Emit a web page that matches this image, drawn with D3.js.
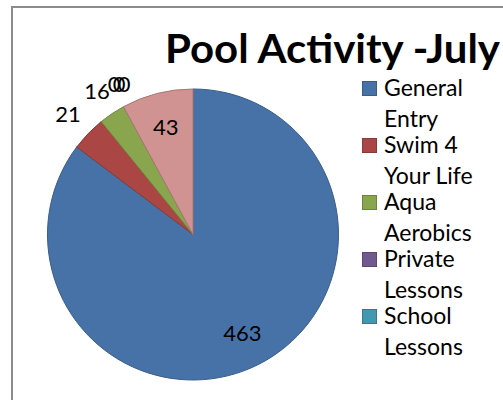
<!DOCTYPE html>
<html>
<head>
<meta charset="utf-8">
<script src="https://cdn.jsdelivr.net/npm/d3@7"></script>
<style>
  html, body { margin: 0; padding: 0; background: #fff; }
  svg { display: block; font-family: Lato, "Open Sans", sans-serif; }
</style>
</head>
<body>
<div id="chart"></div>
<script>
// pie data, clockwise from 12 o'clock; the legend only has room for the first five
const categories = ['General Entry', 'Swim 4 Your Life', 'Aqua Aerobics', 'Private Lessons', 'School Lessons', 'Category 6', 'Category 7'];
const values = [463, 21, 16, 0, 0, 0, 43];
const colors = ['#4672A8', '#AA4643', '#89A54E', '#71588F', '#4198AF', '#DB843D', '#D09391'];

const W = 503, H = 400;
const cx = 193, cy = 234.5, radius = 145.5;

const svg = d3.select('#chart').append('svg')
  .attr('width', W)
  .attr('height', H);

// chart area frame (runs off the right and bottom of the picture)
svg.append('rect')
  .attr('x', 12)
  .attr('y', 7)
  .attr('width', 600)
  .attr('height', 500)
  .attr('fill', '#fff')
  .attr('stroke', '#8c8c8c')
  .attr('stroke-width', 2);

svg.append('text')
  .attr('x', 165)
  .attr('y', 63)
  .attr('font-size', '40px')
  .attr('font-weight', 700)
  .attr('fill', '#000')
  .attr('textLength', 335)
  .attr('lengthAdjust', 'spacingAndGlyphs')
  .text('Pool Activity -July');

const data = categories.map((c, i) => ({ name: c, value: values[i], color: colors[i] }));

const pie = d3.pie().sort(null).value(d => d.value);
const arcs = pie(data);

const arc = d3.arc().innerRadius(0).outerRadius(radius);
const inner = d3.arc().innerRadius(radius * 0.76).outerRadius(radius * 0.76);

const g = svg.append('g').attr('transform', `translate(${cx},${cy})`);

g.selectAll('path')
  .data(arcs.filter(d => d.value > 0))
  .join('path')
  .attr('d', arc)
  .attr('fill', d => d.data.color)
  .attr('stroke', d => d3.color(d.data.color).darker(0.6))
  .attr('stroke-width', 1);

// labels: inside when the slice is wide enough, otherwise just outside the rim
const labelSize = 22;
const seen = {};
arcs.forEach(d => {
  const span = d.endAngle - d.startAngle;
  const mid = (d.startAngle + d.endAngle) / 2;
  const txt = String(d.value);
  const w = txt.length * labelSize * 0.53, h = labelSize * 0.72;
  let x, y;
  if (span > 0.4) {
    [x, y] = inner.centroid(d);
  } else {
    const dx = Math.sin(mid), dy = -Math.cos(mid);
    const ext = Math.abs(dx) * w / 2 + Math.abs(dy) * h / 2;
    const dist = radius + 14 + ext;
    x = dx * dist;
    y = dy * dist;
  }
  // stack labels that land on the same spot
  const key = Math.round(x) + ',' + Math.round(y);
  const n = seen[key] || 0;
  seen[key] = n + 1;
  if (txt === '0') { x += 2 + n * 5; y -= 2; }
  g.append('text')
    .attr('x', x)
    .attr('y', y + h / 2)
    .attr('text-anchor', 'middle')
    .attr('font-size', labelSize + 'px')
    .attr('fill', '#000')
    .text(txt);
});

// legend, two lines per entry, clipped when it runs out of room
const legendX = 362, legendTop = 88, itemStep = 57, lineStep = 31, sw = 14;
const legend = svg.append('g');
data.forEach((d, i) => {
  const yc = legendTop + i * itemStep;
  if (yc + lineStep > 360) return;
  const words = d.name.split(' ');
  let line1 = d.name, line2 = '';
  if (words.length > 1) {
    const cut = words.length > 2 ? 2 : 1;
    line1 = words.slice(0, cut).join(' ');
    line2 = words.slice(cut).join(' ');
  }
  legend.append('rect')
    .attr('x', legendX + 0.5)
    .attr('y', yc - sw / 2 + 0.5)
    .attr('width', sw)
    .attr('height', sw)
    .attr('fill', d.color)
    .attr('stroke', d3.color(d.color).darker(0.6))
    .attr('stroke-width', 1);
  const t = legend.append('text')
    .attr('font-size', '23px')
    .attr('fill', '#000');
  t.append('tspan').attr('x', legendX + 22).attr('y', yc + 8).text(line1);
  if (line2) t.append('tspan').attr('x', legendX + 22).attr('y', yc + 8 + lineStep).text(line2);
});
</script>
</body>
</html>
